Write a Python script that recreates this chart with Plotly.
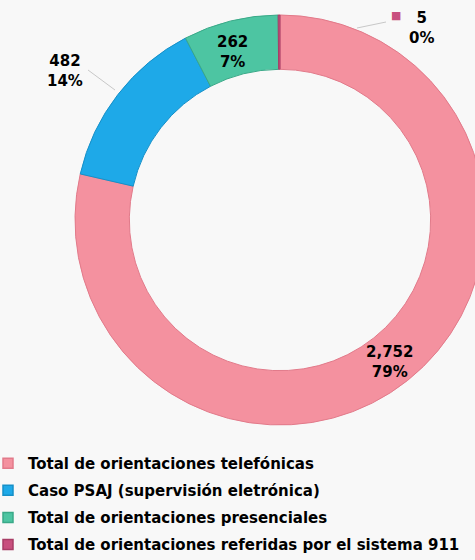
import plotly.graph_objects as go

categories = [
    "Total de orientaciones telefónicas",
    "Caso PSAJ (supervisión eletrónica)",
    "Total de orientaciones presenciales",
    "Total de orientaciones referidas por el sistema 911",
]
values = [2752, 482, 262, 5]
colors = ["#f4919f", "#1ea9e8", "#4dc5a2", "#c8507e"]
edge_colors = ["#e27a8a", "#1690c8", "#3aa988", "#a83d66"]

W, H = 490, 560
BG = "#f8f8f8"
FONT = "DejaVu Sans"

def px(x):
    return x / W

def py(y):
    return 1 - y / H

total = sum(values)
pct = [v / total for v in values]
texts = [f"{v:,}<br>{p:.0%}" for v, p in zip(values, pct)]
label_font = dict(family=FONT, size=15, color="black", weight="bold")

fig = go.Figure()
fig.add_trace(go.Pie(
    labels=categories,
    values=values,
    sort=False,
    direction="clockwise",
    rotation=0,
    hole=0.735,
    marker=dict(colors=colors, line=dict(color=edge_colors, width=1)),
    textinfo="none",
    domain=dict(x=[px(75), px(485)], y=[py(425), py(15)]),
    showlegend=False,
    hoverinfo="label+value+percent",
))

# legend entries
for i, (c, ec, name) in enumerate(zip(colors, edge_colors, categories)):
    fig.add_trace(go.Scatter(
        x=[None], y=[None], mode="markers", name=name,
        legendgroup=f"g{i}",
        marker=dict(symbol="square", size=10, color=c, line=dict(color=ec, width=1.5)),
        showlegend=True,
    ))

# data labels (pixel anchor positions)
label_pos = [(389, 362), (65, 71), (232, 52), (421, 28)]
for t, (x, y) in zip(texts, label_pos):
    fig.add_annotation(x=px(x), y=py(y), xref="paper", yref="paper",
                       xanchor="center", yanchor="middle",
                       text=t, showarrow=False, font=label_font)
fig.add_annotation(x=px(396), y=py(15), xref="paper", yref="paper",
                   xanchor="center", yanchor="middle",
                   text="■", showarrow=False,
                   font=dict(family="DejaVu Sans", size=11, color=colors[3]))
fig.add_shape(type="line", xref="paper", yref="paper",
              x0=px(88), y0=py(70), x1=px(115), y1=py(90),
              line=dict(color="#c8c8c8", width=1))
fig.add_shape(type="line", xref="paper", yref="paper",
              x0=px(357), y0=py(28), x1=px(386), y1=py(22),
              line=dict(color="#c8c8c8", width=1))

fig.update_layout(
    width=W, height=H,
    margin=dict(l=0, r=0, t=0, b=0, autoexpand=False),
    paper_bgcolor=BG, plot_bgcolor=BG,
    xaxis=dict(visible=False), yaxis=dict(visible=False),
    legend=dict(
        x=0, y=py(447), xanchor="left", yanchor="top",
        font=dict(family=FONT, size=15, color="black", weight="bold"),
        tracegroupgap=4.6, itemwidth=30, indentation=-12,
        bgcolor="rgba(0,0,0,0)",
    ),
    showlegend=True,
)

fig.write_html(
    "out.html",
    config={"displayModeBar": False},
    post_script="document.body.style.margin='0';document.body.style.overflow='hidden';document.body.style.background='#f8f8f8';",
)
